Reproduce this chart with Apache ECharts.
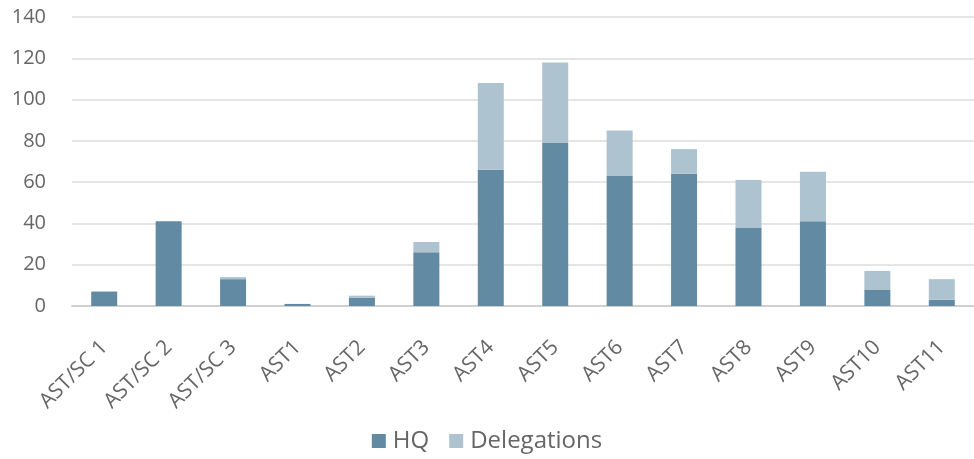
<!DOCTYPE html>
<html><head><meta charset="utf-8">
<script src="https://cdn.jsdelivr.net/npm/echarts@6/dist/echarts.min.js"></script>
<style>html,body{margin:0;padding:0;background:#fff}#c{width:974px;height:459px}</style>
</head><body><div id="c"></div>
<script>
const categories = ['AST/SC 1','AST/SC 2','AST/SC 3','AST1','AST2','AST3','AST4','AST5','AST6','AST7','AST8','AST9','AST10','AST11'];
const hq = [7,41,13,1,4,26,66,79,63,64,38,41,8,3];
const delegations = [0,0,1,0,1,5,42,39,22,12,23,24,9,10];
const yTicks = [0,20,40,60,80,100,120,140];

const font = '"Open Sans", Lato, sans-serif';
const chart = echarts.init(document.getElementById('c'), null, {renderer:'canvas'});
chart.setOption({
  animation:false,
  grid:{left:72,width:913,top:17,bottom:153},
  legend:{
    bottom:1,left:'center',itemWidth:14,itemHeight:14,itemGap:20,
    icon:'rect',
    textStyle:{fontFamily:font,fontSize:24,color:'#666666',padding:[0,0,0,2]},
    data:['HQ','Delegations']
  },
  xAxis:{
    type:'category',data:categories,
    axisLine:{lineStyle:{color:'#d0d0d0',width:2}},
    axisTick:{show:false},
    axisLabel:{rotate:45,fontFamily:font,fontSize:21,color:'#666666',margin:38,interval:0}
  },
  yAxis:{
    type:'value',min:yTicks[0],max:yTicks[yTicks.length-1],interval:20,
    axisLine:{show:false},axisTick:{show:false},
    splitLine:{lineStyle:{color:'#dcdcdc',width:1.5}},
    axisLabel:{fontFamily:font,fontSize:20,color:'#666666',margin:26}
  },
  series:[
    {name:'HQ',type:'bar',stack:'s',data:hq,barWidth:26,
     itemStyle:{color:'#628aa3'}},
    {name:'Delegations',type:'bar',stack:'s',data:delegations,barWidth:26,
     itemStyle:{color:'#adc3cf'}}
  ]
});
</script></body></html>
